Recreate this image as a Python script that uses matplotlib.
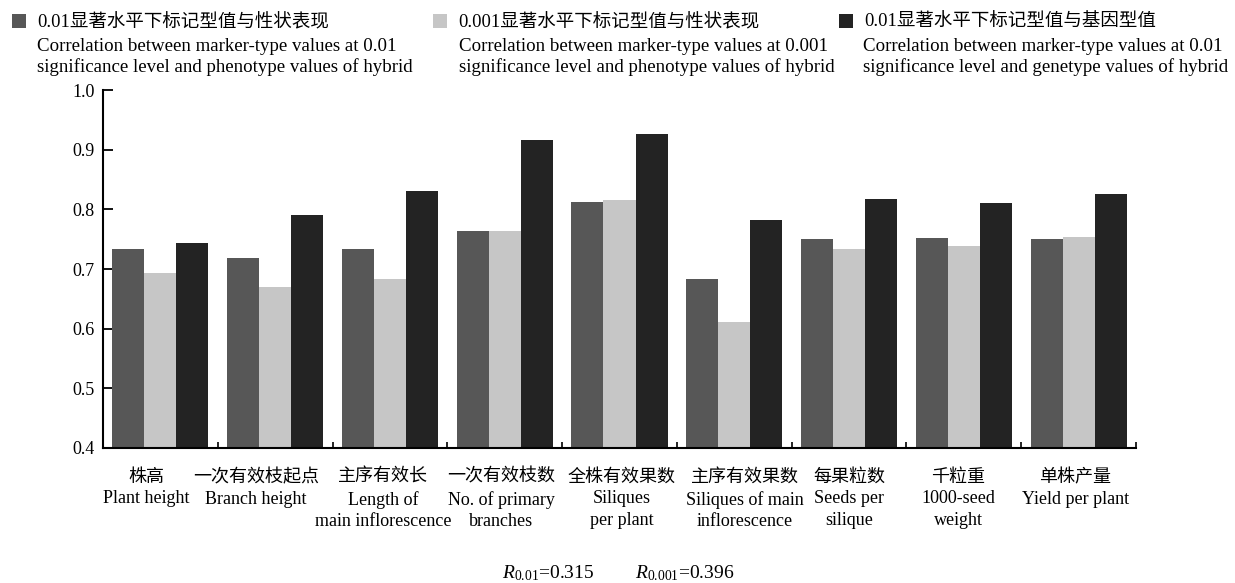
import numpy as np
import matplotlib.pyplot as plt

plt.rcParams['font.family'] = ['Liberation Serif', 'Noto Sans CJK SC']
plt.rcParams['mathtext.fontset'] = 'custom'
plt.rcParams['mathtext.rm'] = 'Liberation Serif'
plt.rcParams['mathtext.it'] = 'Liberation Serif:italic'

# traits (Chinese name + English name)
traits = [
    '株高\nPlant height',
    '一次有效枝起点\nBranch height',
    '主序有效长\nLength of\nmain inflorescence',
    '一次有效枝数\nNo. of primary\nbranches',
    '全株有效果数\nSiliques\nper plant',
    '主序有效果数\nSiliques of main\ninflorescence',
    '每果粒数\nSeeds per\nsilique',
    '千粒重\n1000-seed\nweight',
    '单株产量\nYield per plant',
]

# correlation coefficients
pheno_001 = [0.733, 0.718, 0.734, 0.763, 0.812, 0.683, 0.750, 0.752, 0.750]
pheno_0001 = [0.694, 0.670, 0.683, 0.763, 0.815, 0.611, 0.734, 0.739, 0.754]
geno_001 = [0.743, 0.790, 0.830, 0.917, 0.926, 0.782, 0.818, 0.810, 0.825]

series_cn = ['0.01显著水平下标记型值与性状表现',
             '0.001显著水平下标记型值与性状表现',
             '0.01显著水平下标记型值与基因型值']
series_en = [['Correlation between marker-type values at 0.01',
              'significance level and phenotype values of hybrid'],
             ['Correlation between marker-type values at 0.001',
              'significance level and phenotype values of hybrid'],
             ['Correlation between marker-type values at 0.01',
              'significance level and genetype values of hybrid']]
colors = ['#575757', '#c6c6c6', '#232323']

# label nudges so neighbouring multi-line labels don't collide
label_shift = [-0.12, -0.165, -0.06, -0.03, 0.02, 0.09, 0.0, -0.05, -0.03]

W, H = 1235, 583
fig = plt.figure(figsize=(W / 100, H / 100), dpi=100)
ax = fig.add_axes([103 / W, (H - 448) / H, (1136 - 103) / W, (448 - 90) / H])

x = np.arange(len(traits)) + 0.5
bw = 0.279
bars = []
for k, vals in enumerate([pheno_001, pheno_0001, geno_001]):
    b = ax.bar(x + (k - 1) * bw, vals, width=bw, color=colors[k], zorder=2)
    bars.append(b)

ax.set_xlim(0, len(traits))
ax.set_ylim(0.4, 1.0)
ax.set_yticks(np.arange(0.4, 1.01, 0.1))
ax.set_yticklabels(['%.1f' % v for v in np.arange(0.4, 1.01, 0.1)], fontsize=13)
ax.tick_params(axis='y', direction='in', length=7, width=1.3, pad=6)

ax.set_xticks(x + np.array(label_shift))
ax.set_xticklabels(traits, fontsize=13, linespacing=1.35)
ax.set_xticks(np.arange(1, len(traits) + 1), minor=True)
ax.tick_params(axis='x', which='major', length=0, pad=15)
ax.tick_params(axis='x', which='minor', direction='in', length=4, width=1.2)

for s in ['top', 'right']:
    ax.spines[s].set_visible(False)
for s in ['left', 'bottom']:
    ax.spines[s].set_linewidth(1.5)

# legend keys with Chinese labels, English description underneath
key_x = [12, 433, 839]
text_x = [37, 459, 863]
for k in range(3):
    fig.legend(handles=[bars[k]], labels=[series_cn[k]], loc='upper left',
               bbox_to_anchor=(key_x[k] / W, 1 - 14 / H), frameon=False,
               borderpad=0, borderaxespad=0, fontsize=13.3,
               handlelength=0.75, handleheight=0.75, handletextpad=0.6)
    fig.text(text_x[k] / W, 1 - 51 / H, series_en[k][0], fontsize=13.6, va='baseline')
    fig.text(text_x[k] / W, 1 - 72 / H, series_en[k][1], fontsize=13.6, va='baseline')

fig.text(502 / W, 1 - 578 / H, r'$R_{0.01}$=0.315', fontsize=14, va='baseline')
fig.text(635 / W, 1 - 578 / H, r'$R_{0.001}$=0.396', fontsize=14, va='baseline')

fig.savefig('out.png', dpi=100)
